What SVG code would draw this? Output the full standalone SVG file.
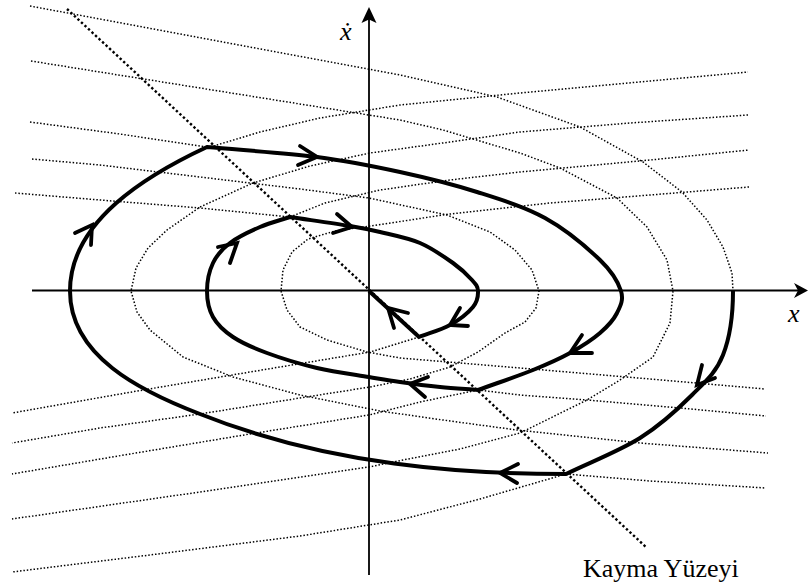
<svg xmlns="http://www.w3.org/2000/svg" width="808" height="588" viewBox="0 0 808 588">
<style>
.fam{fill:none;stroke:#000;stroke-width:1.5;stroke-dasharray:1.5 1.9;stroke-linejoin:round}
.slide{fill:none;stroke:#000;stroke-width:2.4;stroke-dasharray:2.4 2.4}
.traj{fill:none;stroke:#000;stroke-width:4;stroke-linejoin:miter}
.arr{fill:none;stroke:#000;stroke-width:3.8;stroke-linecap:round;stroke-linejoin:miter}
.axis{fill:none;stroke:#000;stroke-width:1.8}
.lbl{font-family:"Liberation Serif","DejaVu Serif",serif;font-size:26px;fill:#000}
</style>
<rect width="808" height="588" fill="#fff"/>
<g id="family-curves">
<path class="fam" d="M15,193 L100,200 L200,208 L290,217"/>
<path class="fam" d="M419,337 L390,346 L370,352 L250,372 L143,390 L12,413"/>
<path class="fam" d="M32,159 L100,165 L200,177 L300,189 L369,198 L447,215 L490,232 L515,250 L532,270 L539,291 L536,308 L525,322 L505,333 L478,352 L450,367 L410,379 L370,387 L300,398 L200,414 L100,428 L12,443"/>
<path class="fam" d="M30,122 L120,134 L207,147"/>
<path class="fam" d="M478,390 L420,402 L369,415 L250,434 L130,454 L12,474"/>
<path class="fam" d="M31,61 L200,88 L400,120 L443,130 L520,153 L560,168 L617,198 L647,227 L667,260 L673,291 L670,323 L653,357 L620,380 L587,400 L520,433 L460,449 L403,460 L369,467 L200,492 L12,519"/>
<path class="fam" d="M30,6 L400,75 L497,97 L580,127 L643,162 L682,192 L707,220 L723,247 L732,273 L733,291"/>
<path class="fam" d="M566,474 L480,499 L400,520 L300,536 L150,555 L12,572"/>
<path class="fam" d="M749,187 L650,195 L550,203 L450,214 L370,226 L335,231 L308,239 L292,252 L283,270 L281,291 L287,310 L300,327 L327,340 L367,352 L400,358 L520,368 L650,379 L765,389"/>
<path class="fam" d="M290,217 L325,203 L380,190 L450,180 L520,172 L650,160 L749,150"/>
<path class="fam" d="M478,390 L520,395 L587,400 L680,408 L766,416"/>
<path class="fam" d="M748,115 L630,123 L520,132 L450,142 L370,153 L310,166 L253,183 L200,207 L167,230 L148,248 L136,268 L131,291 L137,312 L150,330 L183,357 L233,377 L300,395 L380,411 L450,421 L517,430 L640,443 L768,453"/>
<path class="fam" d="M207,148 L260,132 L320,118 L400,105 L520,93 L748,72"/>
<path class="fam" d="M566,474 L650,481 L766,488"/>
</g>
<g id="sliding-surface">
<path class="slide" d="M67,9 L647,548"/>
</g>
<g id="axes">
<path class="axis" d="M32,290.5 L799,290.5"/>
<polygon points="808,290.5 794,283 798,290.5 794,298" fill="#000"/>
<path class="axis" d="M369,575 L369,18"/>
<polygon points="369,7 361.5,23 369,19.5 376.5,23" fill="#000"/>
</g>
<g id="trajectory">
<path class="traj" d="M733,291 C733,312.3 729.8,337.7 723,355 C716.2,372.3 705.8,381.2 692,395 C678.2,408.8 661,424.8 640,438 C619,451.2 590.7,462 566,474
C466,474 330,466 200,414 C140,391 70,356 70,291 C70,221 147,175 207,147
C243.7,150.3 284.8,152.8 317,157 C349.2,161.2 373.3,166.2 400,172 C426.7,177.8 452.8,184.3 477,192 C501.2,199.7 524.5,206.7 545,218 C565.5,229.3 587.3,247.8 600,260 C612.7,272.2 618.2,282.2 621,291 C623.8,299.8 620.5,306 617,313 C613.5,320 607.8,326.3 600,333 C592.2,339.7 581.2,346.8 570,353 C558.8,359.2 548.3,363.8 533,370 C517.7,376.2 496.3,383.3 478,390
C465.3,389 453,388.3 440,387 C427,385.7 411.8,383.7 400,382 C388.2,380.3 382.8,379.3 369,377 C355.2,374.7 334,372 317,368 C300,364 281,358.2 267,353 C253,347.8 242,343 233,337 C224,331 217.3,324.7 213,317 C208.7,309.3 207,300 207,291 C207,282 209.2,271 213,263 C216.8,255 222.2,249 230,243 C237.8,237 250,231.3 260,227 C270,222.7 280,220.3 290,217
C310,220 335,223.5 350,226 C365,228.5 368.3,229.2 380,232 C391.7,234.8 407.8,237.8 420,243 C432.2,248.2 444.3,256.8 453,263 C461.7,269.2 467.8,275.3 472,280 C476.2,284.7 477.8,286.5 478,291 C478.2,295.5 477.7,301.3 473,307 C468.3,312.7 459,320 450,325 C441,330 429.3,333 419,337
L369,291"/>
</g>
<g id="arrows">
<polyline class="arr" points="702,365 697,385 715,378"/>
<polyline class="arr" points="518,464 500,473 517,483"/>
<polyline class="arr" points="75,233 92,225 91,245"/>
<polyline class="arr" points="300,146 317,157 298,165"/>
<polyline class="arr" points="582,335 570,353 592,353"/>
<polyline class="arr" points="428,377 410,384 425,397"/>
<polyline class="arr" points="218,247 237,243 230,263"/>
<polyline class="arr" points="337,214 352,227 333,233"/>
<polyline class="arr" points="460,308 450,325 468,326"/>
<polyline class="arr" points="408,313 388,308 394,328"/>
</g>
<g id="labels">
<text class="lbl" x="340" y="40" font-style="italic">ẋ</text>
<text class="lbl" x="788" y="322" font-style="italic">x</text>
<text class="lbl" x="583" y="577">Kayma Yüzeyi</text>
</g>
</svg>
